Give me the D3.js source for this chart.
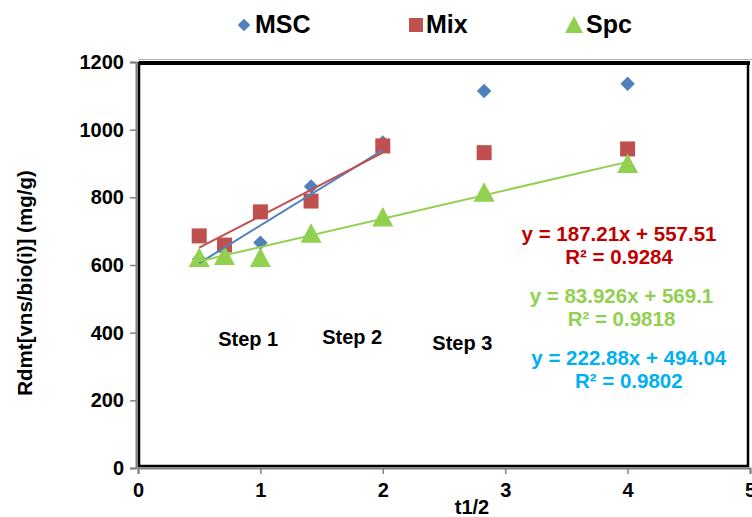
<!DOCTYPE html>
<html>
<head>
<meta charset="utf-8">
<script src="https://cdn.jsdelivr.net/npm/d3@7"></script>
<style>
  body { margin: 0; background: #fff; }
  text { font-family: "Liberation Sans", Arial, sans-serif; font-weight: bold; }
</style>
</head>
<body>
<script>
// values
const tVals = [0.5, 0.707, 1, 1.414, 2, 2.828, 4];
const msc = [618, 650, 666, 832, 962, 1114, 1136];
const mix = [686, 659, 757, 789, 952, 932, 943];
const spc = [622, 628, 622, 694, 742, 815, 900];

const xTicks = [0, 1, 2, 3, 4, 5];
const yTicks = [0, 200, 400, 600, 800, 1000, 1200];

// trendlines: [slope, intercept, xStart, xEnd]
const mscFit = [222.88, 494.04, 0.5, 2];
const mixFit = [187.21, 557.51, 0.5, 2];
const spcFit = [83.926, 569.1, 0.5, 4];

const fitLabels = [
    {eq: "y = 187.21x + 557.51", r2: "R² = 0.9284", color: "#C00000", x: 3.93, y: 686},
    {eq: "y = 83.926x + 569.1", r2: "R² = 0.9818", color: "#92D050", x: 3.95, y: 503},
    {eq: "y = 222.88x + 494.04", r2: "R² = 0.9802", color: "#00B0F0", x: 4.01, y: 320}
];

// step separators [x, yTop, yBottom]
const stepBars = [[0.47, 585, 365], [2.03, 890, 462]];
const stepLabels = [
    {text: "Step 1", x: 0.9, y: 375},
    {text: "Step 2", x: 1.75, y: 383},
    {text: "Step 3", x: 2.65, y: 364}
];

const width = 752, height = 517;
const svg = d3.select("body").append("svg")
    .attr("width", width)
    .attr("height", height);

const x = d3.scaleLinear().domain([0, 5]).range([138, 750]);
const y = d3.scaleLinear().domain([0, 1200]).range([468, 62]);

// axes (gray) with outside ticks
const xAxis = svg.append("g")
    .attr("transform", `translate(0, ${y(0)})`)
    .call(d3.axisBottom(x).tickValues(xTicks).tickFormat(d3.format("d")).tickSize(6).tickPadding(9));
const yAxis = svg.append("g")
    .attr("transform", `translate(${x(0) - 2}, 0)`)
    .call(d3.axisLeft(y).tickValues(yTicks).tickFormat(d3.format("d")).tickSize(6).tickPadding(6));

[xAxis, yAxis].forEach(g => {
    g.select(".domain").attr("stroke", "#808080").attr("stroke-width", 2);
    g.selectAll(".tick line").attr("stroke", "#808080").attr("stroke-width", 1.5);
    g.selectAll(".tick text")
        .attr("fill", "#000")
        .style("font-size", "20px")
        .style("font-weight", "bold")
        .style("font-family", "'Liberation Sans', Arial, sans-serif");
});

// black plot frame
svg.append("rect")
    .attr("x", x(0) + 1)
    .attr("y", y(1200) + 1)
    .attr("width", x(5) - x(0) - 3)
    .attr("height", y(0) - y(1200) - 3)
    .attr("fill", "none")
    .attr("stroke", "#000")
    .attr("stroke-width", 2.5);
svg.append("line")
    .attr("x1", x(0) + 1).attr("x2", x(5))
    .attr("y1", y(1200) + 1).attr("y2", y(1200) + 1)
    .attr("stroke", "#000").attr("stroke-width", 4);
svg.append("line")
    .attr("x1", x(0)).attr("x2", x(5) + 2)
    .attr("y1", y(1200) - 2.5).attr("y2", y(1200) - 2.5)
    .attr("stroke", "#b0b0b0").attr("stroke-width", 1);

// step separator bars
const shadow = svg.append("defs").append("filter").attr("id", "shd")
    .attr("x", "-100%").attr("y", "-10%").attr("width", "300%").attr("height", "130%");
shadow.append("feDropShadow").attr("dx", 1).attr("dy", 2).attr("stdDeviation", 1.5)
    .attr("flood-color", "#000").attr("flood-opacity", 0.3);

svg.selectAll(".bar")
    .data(stepBars)
    .enter().append("line")
    .attr("x1", d => x(d[0])).attr("x2", d => x(d[0]))
    .attr("y1", d => y(d[1])).attr("y2", d => y(d[2]))
    .attr("stroke", "#4F81BD")
    .attr("stroke-width", 5.5)
    .attr("filter", "url(#shd)");

svg.selectAll(".step")
    .data(stepLabels)
    .enter().append("text")
    .attr("x", d => x(d.x))
    .attr("y", d => y(d.y))
    .attr("text-anchor", "middle")
    .attr("dominant-baseline", "middle")
    .style("font-size", "20px")
    .text(d => d.text);

// markers
const diamond = d3.symbol().type(d3.symbolSquare).size(105);
const square = d3.symbol().type(d3.symbolSquare).size(225);
const triangle = "M0,-10L10.5,9.5L-10.5,9.5Z";

svg.selectAll(".msc")
    .data(tVals.map((t, i) => [t, msc[i]]))
    .enter().append("path")
    .attr("d", diamond())
    .attr("transform", d => `translate(${x(d[0])},${y(d[1])}) rotate(45)`)
    .attr("fill", "#4F81BD");

svg.selectAll(".mix")
    .data(tVals.map((t, i) => [t, mix[i]]))
    .enter().append("path")
    .attr("d", square())
    .attr("transform", d => `translate(${x(d[0])},${y(d[1])})`)
    .attr("fill", "#C0504D");

svg.selectAll(".spc")
    .data(tVals.map((t, i) => [t, spc[i]]))
    .enter().append("path")
    .attr("d", triangle)
    .attr("transform", d => `translate(${x(d[0])},${y(d[1])})`)
    .attr("fill", "#92D050");

// trendlines
const fits = [[mscFit, "#4F81BD"], [mixFit, "#C0504D"], [spcFit, "#92D050"]];
svg.selectAll(".fit")
    .data(fits)
    .enter().append("line")
    .attr("x1", d => x(d[0][2]))
    .attr("y1", d => y(d[0][0] * d[0][2] + d[0][1]))
    .attr("x2", d => x(d[0][3]))
    .attr("y2", d => y(d[0][0] * d[0][3] + d[0][1]))
    .attr("stroke", d => d[1])
    .attr("stroke-width", 2);

// equation labels
fitLabels.forEach(f => {
    const g = svg.append("g").attr("fill", f.color).style("font-size", "20.5px");
    g.append("text")
        .attr("x", x(f.x)).attr("y", y(f.y))
        .attr("text-anchor", "middle").attr("dominant-baseline", "middle")
        .text(f.eq);
    g.append("text")
        .attr("x", x(f.x)).attr("y", y(f.y) + 23)
        .attr("text-anchor", "middle").attr("dominant-baseline", "middle")
        .text(f.r2);
});

// axis titles
svg.append("text")
    .attr("transform", `translate(27, 283) rotate(-90)`)
    .attr("text-anchor", "middle")
    .attr("dominant-baseline", "middle")
    .style("font-size", "20.5px")
    .text("Rdmt[vns/bio(i)] (mg/g)");

svg.append("text")
    .attr("x", 472).attr("y", 509)
    .attr("text-anchor", "middle")
    .attr("dominant-baseline", "middle")
    .style("font-size", "20px")
    .text("t1/2");

// legend
const legend = [
    {name: "MSC", color: "#4F81BD", cx: 244, tx: 255},
    {name: "Mix", color: "#C0504D", cx: 416, tx: 426},
    {name: "Spc", color: "#92D050", cx: 574, tx: 586}
];
legend.forEach(l => {
    let m;
    if (l.name === "MSC") {
        m = svg.append("path").attr("d", d3.symbol().type(d3.symbolSquare).size(80)())
            .attr("transform", `translate(${l.cx},25) rotate(45)`);
    } else if (l.name === "Mix") {
        m = svg.append("path").attr("d", d3.symbol().type(d3.symbolSquare).size(196)())
            .attr("transform", `translate(${l.cx},25)`);
    } else {
        m = svg.append("path").attr("d", "M0,-9L9,8L-9,8Z")
            .attr("transform", `translate(${l.cx},25)`);
    }
    m.attr("fill", l.color);
    svg.append("text")
        .attr("x", l.tx).attr("y", 26)
        .attr("dominant-baseline", "middle")
        .style("font-size", "25px")
        .text(l.name);
});
</script>
</body>
</html>
